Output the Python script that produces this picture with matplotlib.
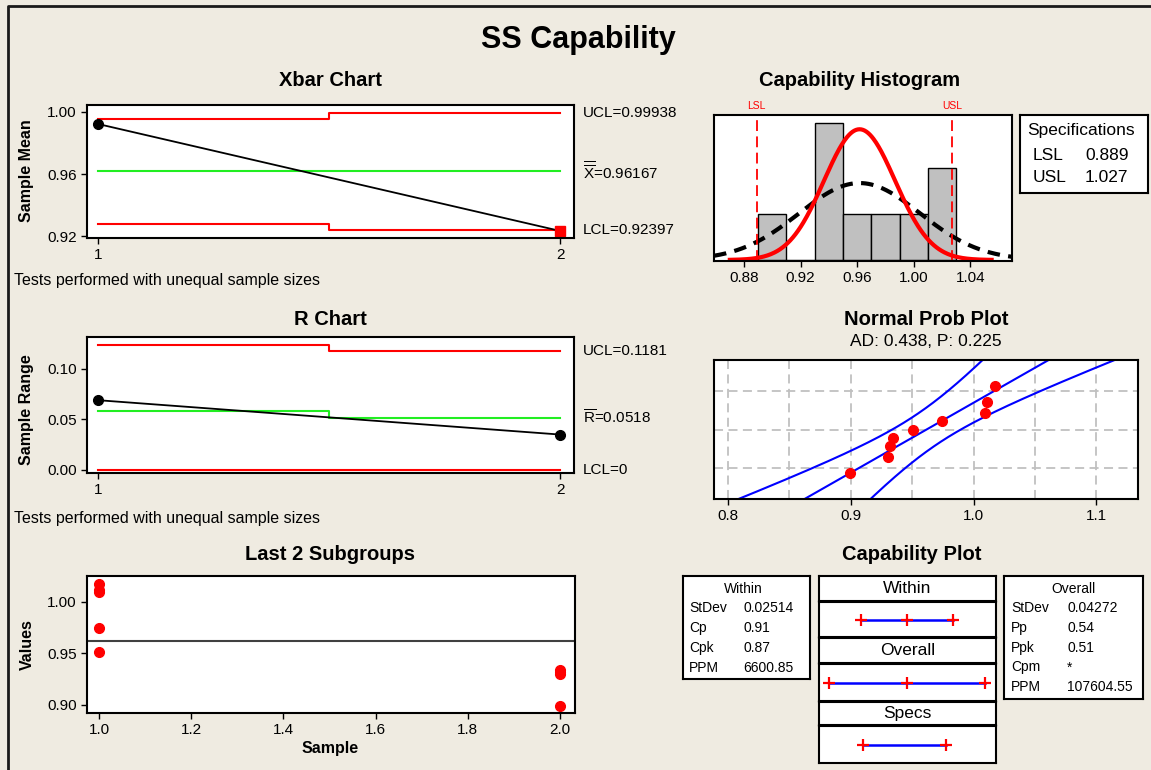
import matplotlib
matplotlib.use("Agg")
import matplotlib.pyplot as plt
import matplotlib.transforms as mtransforms
from matplotlib.lines import Line2D
import numpy as np
from statistics import NormalDist

W, H = 1151, 770

# ---- values ----
subgroup = [1, 2]
xbar_means = [0.9921, 0.9235]
xbar_ucl = [0.9954, 0.99938]
xbar_lcl = [0.9279, 0.92397]
xbar_center = 0.96167

ranges = [0.069, 0.035]
r_ucl = [0.1236, 0.1181]
r_center = [0.0585, 0.0518]
r_lcl = [0.0, 0.0]

group1 = [1.017, 1.011, 1.009, 0.974, 0.951]
group2 = [0.934, 0.932, 0.930, 0.899]

hist_bins = [0.89, 0.91, 0.93, 0.95, 0.97, 0.99, 1.01, 1.03]
lsl, usl = 0.889, 1.027
stdev_within = 0.02514
stdev_overall = 0.04272
ad_stat, p_value = 0.438, 0.225

within_stats = [("StDev", "0.02514"), ("Cp", "0.91"), ("Cpk", "0.87"), ("PPM", "6600.85")]
overall_stats = [("StDev", "0.04272"), ("Pp", "0.54"), ("Ppk", "0.51"), ("Cpm", "*"), ("PPM", "107604.55")]

BG = "#EFEBE1"
GREEN = "#22EE22"

plt.rcParams["font.family"] = ["Liberation Sans", "DejaVu Sans"]
plt.rcParams["mathtext.fontset"] = "custom"
plt.rcParams["mathtext.rm"] = "Liberation Sans"

fig = plt.figure(figsize=(W / 100, H / 100), dpi=100, facecolor=BG)


def box(l, t, r, b):
    return [l / W, 1 - b / H, (r - l) / W, (b - t) / H]


def ftext(x, y, s, **kw):
    fig.text(x / W, 1 - y / H, s, **kw)


def style(ax):
    for sp in ax.spines.values():
        sp.set_linewidth(1.5)
    ax.tick_params(direction="out", length=4, width=1, labelsize=11, colors="black")


def blank(ax):
    ax.set_xticks([])
    ax.set_yticks([])
    for sp in ax.spines.values():
        sp.set_linewidth(1.5)


# border of the page
fig.add_artist(Line2D([8 / W, 8 / W, 1.0], [0, 1 - 6 / H, 1 - 6 / H],
                      transform=fig.transFigure, color="#1a1a1a", lw=2))

ftext(578, 40, "SS Capability", ha="center", va="center", fontsize=22, fontweight="bold")

# ---- Xbar chart ----
ax1 = fig.add_axes(box(87, 105, 574, 238))
style(ax1)
ax1.step(subgroup, xbar_ucl, where="mid", color="red", lw=1.5)
ax1.step(subgroup, xbar_lcl, where="mid", color="red", lw=1.5)
ax1.plot(subgroup, [xbar_center] * 2, color=GREEN, lw=1.5)
ax1.plot(subgroup, xbar_means, color="black", lw=1.3)
ax1.plot(subgroup[0], xbar_means[0], "o", color="black", ms=7)
ax1.plot(subgroup[1], xbar_means[1], "s", color="red", ms=7)
ax1.set_xlim(0.9758, 2.0297)
ax1.set_ylim(0.919, 1.0043)
ax1.set_xticks(subgroup)
ax1.set_yticks([0.92, 0.96, 1.00])
ax1.set_yticklabels(["0.92", "0.96", "1.00"])
tr = mtransforms.blended_transform_factory(ax1.transAxes, ax1.transData)
ax1.text(1.018, xbar_ucl[-1], f"UCL={xbar_ucl[-1]}", transform=tr, va="center", fontsize=11)
ax1.text(1.018, xbar_center, r"$\overline{\overline{\mathrm{X}}}$" + f"={xbar_center}",
         transform=tr, va="center", fontsize=11)
ax1.text(1.018, xbar_lcl[-1], f"LCL={xbar_lcl[-1]}", transform=tr, va="center", fontsize=11)
ftext(330, 80, "Xbar Chart", ha="center", va="center", fontsize=14.5, fontweight="bold")
ftext(27, 171, "Sample Mean", ha="center", va="center", rotation=90, fontsize=11.5, fontweight="bold")
ftext(14, 280, "Tests performed with unequal sample sizes", va="center", fontsize=11.5)

# ---- R chart ----
ax2 = fig.add_axes(box(87, 337, 574, 473))
style(ax2)
ax2.step(subgroup, r_ucl, where="mid", color="red", lw=1.5)
ax2.step(subgroup, r_lcl, where="mid", color="red", lw=1.5)
ax2.step(subgroup, r_center, where="mid", color=GREEN, lw=1.5)
ax2.plot(subgroup, ranges, color="black", lw=1.3, marker="o", ms=7)
ax2.set_xlim(0.9758, 2.0297)
ax2.set_ylim(-0.003, 0.1315)
ax2.set_xticks(subgroup)
ax2.set_yticks([0.0, 0.05, 0.10])
ax2.set_yticklabels(["0.00", "0.05", "0.10"])
tr = mtransforms.blended_transform_factory(ax2.transAxes, ax2.transData)
ax2.text(1.018, r_ucl[-1], f"UCL={r_ucl[-1]}", transform=tr, va="center", fontsize=11)
ax2.text(1.018, r_center[-1], r"$\overline{\mathrm{R}}$" + f"={r_center[-1]}",
         transform=tr, va="center", fontsize=11)
ax2.text(1.018, r_lcl[-1], f"LCL={r_lcl[-1]:g}", transform=tr, va="center", fontsize=11)
ftext(330, 319, "R Chart", ha="center", va="center", fontsize=14.5, fontweight="bold")
ftext(27, 410, "Sample Range", ha="center", va="center", rotation=90, fontsize=11.5, fontweight="bold")
ftext(14, 519, "Tests performed with unequal sample sizes", va="center", fontsize=11.5)

# ---- Last 2 subgroups ----
ax3 = fig.add_axes(box(87, 576, 575, 713))
style(ax3)
ax3.axhline(xbar_center, color="#404040", lw=1.5)
ax3.plot([subgroup[0]] * len(group1), group1, "o", color="red", ms=7)
ax3.plot([subgroup[1]] * len(group2), group2, "o", color="red", ms=7)
ax3.set_xlim(0.9735, 2.033)
ax3.set_ylim(0.892, 1.0249)
ax3.set_xticks([1.0, 1.2, 1.4, 1.6, 1.8, 2.0])
ax3.set_xticklabels(["1.0", "1.2", "1.4", "1.6", "1.8", "2.0"])
ax3.set_yticks([0.90, 0.95, 1.00])
ax3.set_yticklabels(["0.90", "0.95", "1.00"])
ftext(330, 555, "Last 2 Subgroups", ha="center", va="center", fontsize=14.5, fontweight="bold")
ftext(27, 645, "Values", ha="center", va="center", rotation=90, fontsize=11.5, fontweight="bold")
ftext(330, 749, "Sample", ha="center", va="center", fontsize=11.5, fontweight="bold")

# ---- capability histogram ----
values = np.array(group1 + group2)
n = len(values)
bw = hist_bins[1] - hist_bins[0]
ax4 = fig.add_axes(box(714, 115, 1012, 261))
style(ax4)
ax4.hist(values, bins=hist_bins, color="#C0C0C0", edgecolor="black", lw=1)
ax4.set_xlim(0.8588, 1.0694)
ax4.set_ylim(-0.022, 3.168)
ax4.set_yticks([])
ax4.set_xticks([0.88, 0.92, 0.96, 1.00, 1.04])
ax4.set_xticklabels(["0.88", "0.92", "0.96", "1.00", "1.04"])
xs = np.linspace(0.8588, 1.0694, 300)
ax4.plot(xs, [n * bw * NormalDist(xbar_center, stdev_overall).pdf(v) for v in xs],
         color="black", lw=3, ls=(0, (3, 2)))
xw = np.linspace(0.870, 1.055, 300)
ax4.plot(xw, [n * bw * NormalDist(xbar_center, stdev_within).pdf(v) for v in xw],
         color="red", lw=3)
tr = mtransforms.blended_transform_factory(ax4.transData, ax4.transAxes)
for val, lab in [(lsl, "LSL"), (usl, "USL")]:
    ax4.axvline(val, color="red", lw=1.3, ls=(0, (6, 3)))
    ax4.text(val, 1.025, lab, transform=tr, ha="center", va="bottom", color="red", fontsize=7.5)
ftext(860, 80, "Capability Histogram", ha="center", va="center", fontsize=14.5, fontweight="bold")

axs = fig.add_axes(box(1020, 115, 1148, 193))
blank(axs)
ftext(1081, 130, "Specifications", ha="center", va="center", fontsize=12.5)
ftext(1033, 155, "LSL", va="center", fontsize=12.5)
ftext(1085, 155, f"{lsl}", va="center", fontsize=12.5)
ftext(1033, 177, "USL", va="center", fontsize=12.5)
ftext(1085, 177, f"{usl}", va="center", fontsize=12.5)

# ---- normal probability plot ----
nd = NormalDist()
ax5 = fig.add_axes(box(714, 360, 1138, 499))
style(ax5)
sv = np.sort(values)
zq = [nd.inv_cdf((i + 1 - 0.3) / (n + 0.4)) for i in range(n)]
zz = np.linspace(-2.6, 2.6, 200)
fit = xbar_center + stdev_overall * zz
half = 1.96 * stdev_overall * np.sqrt((1 + zz ** 2 / 2) / n)
ax5.plot(fit, zz, color="blue", lw=1.5)
ax5.plot(fit - half, zz, color="blue", lw=1.5)
ax5.plot(fit + half, zz, color="blue", lw=1.5)
ax5.plot(sv, zq, "o", color="red", ms=7, zorder=5)
ax5.set_xlim(0.7886, 1.1338)
ax5.set_ylim(-2.326, 2.326)
ax5.set_xticks([0.8, 0.9, 1.0, 1.1])
ax5.set_xticklabels(["0.8", "0.9", "1.0", "1.1"])
ax5.set_xticks([0.85, 0.95, 1.05], minor=True)
ax5.set_yticks([nd.inv_cdf(p) for p in (0.1, 0.5, 0.9)])
ax5.set_yticklabels([])
ax5.tick_params(axis="y", length=0)
ax5.tick_params(axis="x", which="minor", length=0)
ax5.grid(True, which="both", color="#C0C0C0", lw=1.3, ls=(0, (5, 3)))
ax5.set_axisbelow(True)
ftext(926, 319, "Normal Prob Plot", ha="center", va="center", fontsize=14.5, fontweight="bold")
ftext(926, 341, f"AD: {ad_stat}, P: {p_value}", ha="center", va="center", fontsize=12.5)

# ---- capability plot ----
ftext(912, 555, "Capability Plot", ha="center", va="center", fontsize=14.5, fontweight="bold")

axw = fig.add_axes(box(683, 576, 810, 679))
blank(axw)
ftext(743, 589, "Within", ha="center", va="center", fontsize=10)
for k, (lab, val) in enumerate(within_stats):
    ftext(689, 608 + 20 * k, lab, va="center", fontsize=10)
    ftext(743, 608 + 20 * k, val, va="center", fontsize=10)

axo = fig.add_axes(box(1004, 576, 1143, 699))
blank(axo)
ftext(1073, 589, "Overall", ha="center", va="center", fontsize=10)
for k, (lab, val) in enumerate(overall_stats):
    ftext(1011, 608 + 19.8 * k, lab, va="center", fontsize=10)
    ftext(1067, 608 + 19.8 * k, val, va="center", fontsize=10)

intervals = [
    ("Within", (576, 601), (602, 637),
     [xbar_center - 3 * stdev_within, xbar_center, xbar_center + 3 * stdev_within]),
    ("Overall", (638, 663), (664, 701),
     [xbar_center - 3 * stdev_overall, xbar_center, xbar_center + 3 * stdev_overall]),
    ("Specs", (702, 725), (726, 763), [lsl, usl]),
]
for name, (ht, hb), (pt, pb), pts in intervals:
    axh = fig.add_axes(box(819, ht, 996, hb))
    blank(axh)
    axh.text(0.5, 0.5, name, ha="center", va="center", fontsize=12.5, transform=axh.transAxes)
    axp = fig.add_axes(box(819, pt, 996, pb))
    blank(axp)
    axp.plot([pts[0], pts[-1]], [0, 0], color="blue", lw=1.8)
    axp.plot(pts, [0] * len(pts), "+", color="red", ms=9, mew=1.6)
    axp.set_xlim(0.8167, 1.1088)
    axp.set_ylim(-1, 1)

fig.savefig("out.png", dpi=100, facecolor=BG)
